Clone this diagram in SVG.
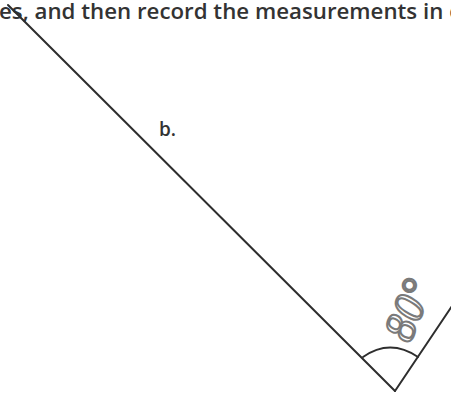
<svg xmlns="http://www.w3.org/2000/svg" width="451" height="393" viewBox="0 0 451 393">
<style>
.t{font-family:"Open Sans","Liberation Sans",sans-serif;font-weight:600;fill:#333}
.ln{stroke:#2e2e2e;stroke-width:2;fill:none;stroke-linecap:round}
</style>
<rect width="451" height="393" fill="#fff"/>
<g id="header"><text class="t" x="-1" y="19" font-size="21" textLength="464" lengthAdjust="spacingAndGlyphs">es, and then record the measurements in d</text></g>
<g id="label-b"><text class="t" x="159" y="136" font-size="19">b.</text></g>
<g id="connectors">
<line class="ln" x1="8" y1="5" x2="395" y2="391"/>
<line class="ln" x1="395" y1="391" x2="452" y2="306"/>
<path class="ln" d="M363,357 Q390,338 418,357"/>
</g>
<g id="angle-label"><text x="0" y="0" transform="translate(410,344) rotate(-68)" font-family="Liberation Serif,serif" font-style="italic" font-size="44" fill="none" stroke="#7a7a7a" stroke-width="2">80°</text></g>
</svg>
